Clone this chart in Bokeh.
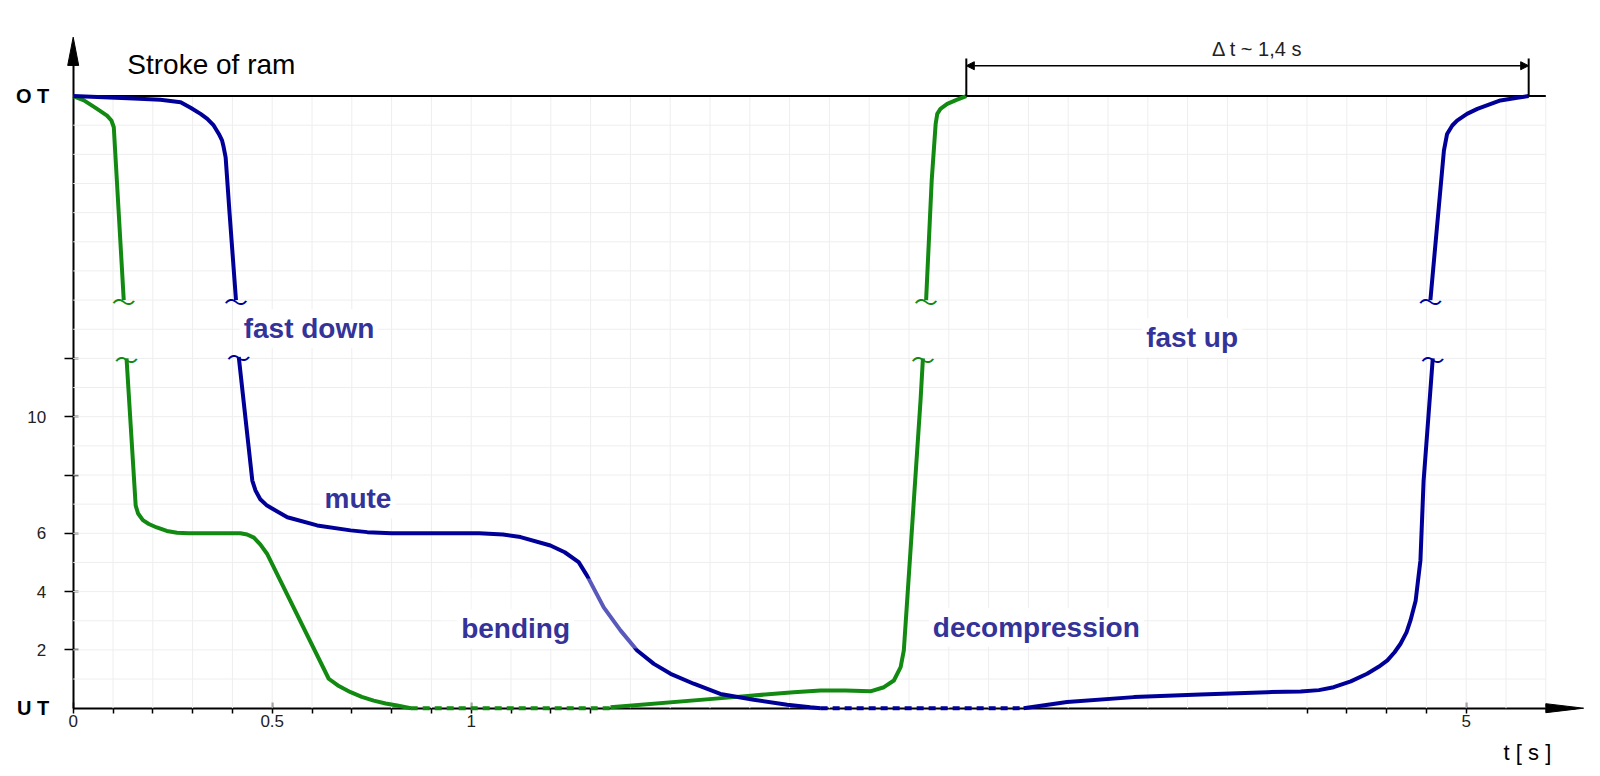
from bokeh.plotting import figure
from bokeh.models import (Range1d, LinearAxis, FixedTicker, Label, Arrow,
                          NormalHead, BoxAnnotation)
from bokeh.core.properties import value
from bokeh.embed import file_html
from bokeh.resources import INLINE

# ------------------------------------------------------------------ data
# time axis of the drawing (s); y = stroke units, O T drawn at 21 units
OT = 21.0
UT = 0.0

# green curve
GREEN_DOWN_T = [0.0, 0.027, 0.060, 0.085, 0.096, 0.102, 0.127]
GREEN_DOWN_Y = [21.0, 20.85, 20.56, 20.33, 20.16, 19.93, 14.0]
GREEN_PRESS_T = [0.134, 0.157, 0.163, 0.175, 0.190, 0.210, 0.235, 0.261, 0.290,
                 0.420, 0.437, 0.454, 0.470, 0.487, 0.642, 0.665, 0.697, 0.725,
                 0.755, 0.785, 0.814, 0.848]
GREEN_PRESS_Y = [12.0, 6.95, 6.68, 6.45, 6.32, 6.20, 6.08, 6.02, 6.0,
                 6.0, 5.96, 5.85, 5.62, 5.30, 1.01, 0.78, 0.55, 0.39,
                 0.26, 0.16, 0.09, 0.0]
GREEN_HOLD_T = [0.848, 1.350]
GREEN_HOLD_Y = [0.0, 0.0]
GREEN_DECOMP_T = [1.350, 1.660, 1.810, 1.878, 1.940, 2.003, 2.037, 2.062, 2.079,
                  2.087, 2.129, 2.135]
GREEN_DECOMP_Y = [0.03, 0.38, 0.55, 0.61, 0.61, 0.58, 0.72, 0.95, 1.41,
                  1.98, 10.56, 12.0]
GREEN_UP_T = [2.143, 2.157, 2.167, 2.171, 2.179, 2.196, 2.221, 2.244]
GREEN_UP_Y = [14.0, 18.1, 20.05, 20.39, 20.56, 20.73, 20.88, 21.0]

# blue curve
BLUE_DOWN_T = [0.0, 0.152, 0.219, 0.270, 0.295, 0.320, 0.337, 0.353, 0.366,
               0.374, 0.378, 0.383, 0.393, 0.409]
BLUE_DOWN_Y = [21.0, 20.92, 20.87, 20.79, 20.60, 20.39, 20.22, 19.99, 19.70,
               19.48, 19.25, 18.9, 16.96, 14.0]
BLUE_PRESS_T = [0.416, 0.450, 0.458, 0.470, 0.487, 0.538, 0.613, 0.697, 0.739,
                0.800, 1.020, 1.080, 1.124, 1.199, 1.235, 1.270, 1.291, 1.333,
                1.375, 1.417, 1.459, 1.501, 1.559, 1.626, 1.710, 1.794, 1.852,
                1.878]
BLUE_PRESS_Y = [12.05, 7.81, 7.47, 7.17, 6.95, 6.55, 6.27, 6.10, 6.04,
                6.0, 6.0, 5.96, 5.87, 5.58, 5.35, 5.01, 4.55, 3.46,
                2.67, 1.98, 1.52, 1.18, 0.84, 0.49, 0.29, 0.12, 0.03,
                0.0]
BLUE_HOLD_T = [1.878, 2.388]
BLUE_HOLD_Y = [0.0, 0.0]
BLUE_RETURN_T = [2.388, 2.497, 2.665, 2.832, 3.000, 3.084, 3.130, 3.167, 3.210,
                 3.251, 3.280, 3.302, 3.320, 3.335, 3.350, 3.360, 3.373, 3.381,
                 3.385, 3.393, 3.416]
BLUE_RETURN_Y = [0.0, 0.21, 0.38, 0.47, 0.55, 0.57, 0.62, 0.72, 0.92,
                 1.18, 1.42, 1.64, 1.92, 2.21, 2.60, 3.01, 3.69, 4.61,
                 5.07, 7.81, 12.0]
BLUE_UP_T = [3.410, 3.444, 3.452, 3.465, 3.477, 3.502, 3.528, 3.586, 3.628, 3.657]
BLUE_UP_Y = [14.0, 19.13, 19.70, 19.99, 20.16, 20.39, 20.56, 20.85, 20.94, 21.0]

# axis ticks and labels
X_TICKS = [0.0, 0.5, 1.0, 3.5]
X_TICK_LABELS = ["0", "0.5", "1", "5"]
X_MINOR_TICKS = [0.1, 0.2, 0.3, 0.4, 0.6, 0.7, 0.8, 0.9, 1.1, 1.2, 1.3,
                 3.1, 3.2, 3.3, 3.4]
Y_TICKS = [2, 4, 6, 10]
Y_MINOR_TICKS = [8, 12]
Y_END_VALUES = [UT, OT]
Y_END_LABELS = ["U T", "O T"]

PHASE_LABELS = ["fast down", "mute", "bending", "decompression", "fast up"]
TITLE_TEXT = "Stroke of ram"
DT_TEXT = "\u0394 t ~ 1,4 s"
X_AXIS_TEXT = "t  [ s ]"
BREAK_MARK = "\u301c"

# ------------------------------------------------------------------ layout
W, H = 1600, 776
PX_PER_S = 398.0
PX_PER_UNIT = 29.15
ORIGIN_X_PX = 72.7      # canvas px of t = 0
ORIGIN_Y_PX = 707.7     # canvas px (from top) of y = 0
X_START = -ORIGIN_X_PX / PX_PER_S
X_END = X_START + W / PX_PER_S
Y_END = ORIGIN_Y_PX / PX_PER_UNIT
Y_START = Y_END - H / PX_PER_UNIT

GRID_RIGHT = 3.70
X_ARROW_TIP = 3.795
Y_ARROW_BASE = 22.05
Y_ARROW_TIP = 23.02

GREEN = "#128a12"
BLUE = "#000099"
LABEL_BLUE = "#333399"
GRID_COLOR = "#eeeeee"
FONT = "Liberation Sans"

p = figure(width=W, height=H, x_range=Range1d(X_START, X_END),
           y_range=Range1d(Y_START, Y_END), x_axis_type=None, y_axis_type=None,
           toolbar_location=None, output_backend="svg", min_border=0,
           outline_line_color=None, title=None)
p.background_fill_color = "white"
p.border_fill_color = "white"

# grid (drawn only inside the stroke area)
grid_t = [round(0.1 * i, 1) for i in range(1, 38)]
grid_y = [float(i) for i in range(1, 21)]
p.segment(x0=grid_t, y0=[UT] * len(grid_t), x1=grid_t, y1=[OT] * len(grid_t),
          line_color=GRID_COLOR, line_width=1)
p.segment(x0=[0.0] * len(grid_y), y0=grid_y, x1=[GRID_RIGHT] * len(grid_y),
          y1=grid_y, line_color=GRID_COLOR, line_width=1)

# O T reference line
p.line([0.0, GRID_RIGHT], [OT, OT], line_color="black", line_width=2)

# axes
xaxis = LinearAxis(fixed_location=0, bounds=(0, X_ARROW_TIP - 0.02),
                   ticker=FixedTicker(ticks=X_TICKS, minor_ticks=X_MINOR_TICKS),
                   major_label_overrides=dict(zip(X_TICKS, X_TICK_LABELS)),
                   axis_line_color="black", axis_line_width=2,
                   major_tick_line_color="black", major_tick_line_width=1.5,
                   minor_tick_line_color="black", minor_tick_line_width=1.5,
                   major_tick_in=6, major_tick_out=5, minor_tick_in=0,
                   minor_tick_out=5, major_label_standoff=2,
                   major_label_text_font=FONT,
                   major_label_text_font_size="17px",
                   major_label_text_color="#222222", level="underlay")
p.add_layout(xaxis, "below")

yaxis = LinearAxis(fixed_location=0, bounds=(0, Y_ARROW_TIP - 0.3),
                   ticker=FixedTicker(ticks=Y_TICKS, minor_ticks=Y_MINOR_TICKS),
                   axis_line_color="black", axis_line_width=2,
                   major_tick_line_color="black", major_tick_line_width=1.5,
                   minor_tick_line_color="black", minor_tick_line_width=1.5,
                   major_tick_in=5, major_tick_out=9, minor_tick_in=5,
                   minor_tick_out=9, major_label_standoff=18,
                   major_label_text_font=FONT,
                   major_label_text_font_size="17px",
                   major_label_text_color="#222222", level="underlay")
p.add_layout(yaxis, "left")

# axis arrow heads
xh = 4.5 / PX_PER_UNIT
yw = 5.5 / PX_PER_S
p.patches(xs=[[GRID_RIGHT, X_ARROW_TIP, GRID_RIGHT], [-yw, 0.0, yw]],
          ys=[[xh, 0.0, -xh], [Y_ARROW_BASE, Y_ARROW_TIP, Y_ARROW_BASE]],
          fill_color="black", line_color="black", line_width=1)

# dwell (dashed) parts
p.line(GREEN_HOLD_T, GREEN_HOLD_Y, line_color=GREEN, line_width=4, line_dash="7 5")
p.line(BLUE_HOLD_T, BLUE_HOLD_Y, line_color=BLUE, line_width=4, line_dash="7 5")

# curves
for ts, ys, col in [(GREEN_DOWN_T, GREEN_DOWN_Y, GREEN),
                    (GREEN_PRESS_T, GREEN_PRESS_Y, GREEN),
                    (GREEN_DECOMP_T, GREEN_DECOMP_Y, GREEN),
                    (GREEN_UP_T, GREEN_UP_Y, GREEN),
                    (BLUE_DOWN_T, BLUE_DOWN_Y, BLUE),
                    (BLUE_PRESS_T, BLUE_PRESS_Y, BLUE),
                    (BLUE_RETURN_T, BLUE_RETURN_Y, BLUE),
                    (BLUE_UP_T, BLUE_UP_Y, BLUE)]:
    p.line(ts, ys, line_color=col, line_width=4, line_join="round")

# break marks at the interrupted ends of the curves
brk_x = [GREEN_DOWN_T[-1], GREEN_PRESS_T[0], GREEN_DECOMP_T[-1], GREEN_UP_T[0],
         BLUE_DOWN_T[-1], BLUE_PRESS_T[0], BLUE_RETURN_T[-1], BLUE_UP_T[0]]
brk_y = [GREEN_DOWN_Y[-1], GREEN_PRESS_Y[0], GREEN_DECOMP_Y[-1], GREEN_UP_Y[0],
         BLUE_DOWN_Y[-1], BLUE_PRESS_Y[0], BLUE_RETURN_Y[-1], BLUE_UP_Y[0]]
brk_c = [GREEN] * 4 + [BLUE] * 4
p.text(x=brk_x, y=brk_y, text=[BREAK_MARK] * len(brk_x), text_color=brk_c,
       text_align="center", text_baseline="middle", text_font_size="24px",
       text_font=value("Noto Sans CJK JP"))

# lighter overlay seen on the bending stroke
p.add_layout(BoxAnnotation(left=0.923, right=1.425, bottom=2.05, top=4.45,
                           fill_color="white", fill_alpha=0.35, line_color=None))

# phase labels
phase_x = [0.4183, 0.6214, 0.9648, 2.1497, 2.686]
phase_y = [13.02, 7.18, 2.72, 2.78, 12.71]
for txt, lx, ly in zip(PHASE_LABELS, phase_x, phase_y):
    p.add_layout(Label(x=lx, y=ly, text=txt, text_font=FONT,
                       text_font_size="28px", text_font_style="bold",
                       text_color=LABEL_BLUE, text_align="left",
                       text_baseline="alphabetic",
                       background_fill_color="white", background_fill_alpha=1.0,
                       padding=4))

# y end labels (bold)
p.text(x=[-0.060] * 2, y=Y_END_VALUES, text=Y_END_LABELS, text_align="right",
       text_baseline="middle", text_font=value(FONT), text_font_size="20px",
       text_font_style="bold", text_color="black")

# title and axis text
p.text(x=[0.136], y=[22.07], text=[TITLE_TEXT], text_align="left",
       text_baseline="alphabetic", text_font=value(FONT), text_font_size="28px",
       text_color="black")
p.text(x=[3.594], y=[-1.52], text=[X_AXIS_TEXT], text_align="left",
       text_baseline="middle", text_font=value(FONT), text_font_size="22px",
       text_color="black")

# delta-t dimension between the two returns to O T
DT_START = GREEN_UP_T[-1]
DT_END = BLUE_UP_T[-1]
p.segment(x0=[DT_START, DT_END], y0=[OT, OT], x1=[DT_START, DT_END],
          y1=[22.29, 22.29], line_color="black", line_width=2)
p.add_layout(Arrow(x_start=DT_START, y_start=22.04, x_end=DT_END, y_end=22.04,
                   line_color="black", line_width=1.5,
                   start=NormalHead(size=8, fill_color="black", line_color="black"),
                   end=NormalHead(size=8, fill_color="black", line_color="black")))
p.text(x=[2.975], y=[22.63], text=[DT_TEXT], text_align="center",
       text_baseline="middle", text_font=value(FONT), text_font_size="20px",
       text_color="#222222")

open("out.html", "w").write(file_html(p, INLINE))
